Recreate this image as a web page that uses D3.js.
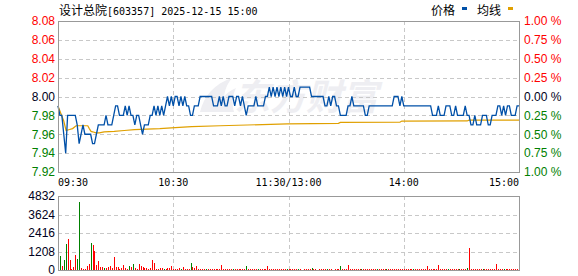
<!DOCTYPE html>
<html>
<head>
<meta charset="utf-8">
<script src="https://cdn.jsdelivr.net/npm/d3@7/dist/d3.min.js"></script>
<style>
  body { margin: 0; background: #fff; }
  svg { display: block; }
  text { font-family: "Liberation Sans", Arial, sans-serif; }
</style>
</head>
<body>
<svg id="chart" width="578" height="276"></svg>
<script>
// ---- data ----
var title = "设计总院";
var titleRest = "[603357] 2025-12-15 15:00";
var preClose = 8.00;

// one price per minute, 09:30 .. 11:30 / 13:00 .. 15:00 (241 points)
var prices = [
  7.99, 7.98, 7.98, 7.96, 7.94, 7.98, 7.98, 7.98, 7.98, 7.98,
  7.97, 7.95, 7.96, 7.97, 7.96, 7.96, 7.96, 7.96, 7.95, 7.95,
  7.96, 7.97, 7.97, 7.97, 7.97, 7.98, 7.97, 7.97, 7.97, 7.98,
  7.99, 7.99, 7.98, 7.98, 7.98, 7.99, 7.98, 7.99, 7.98, 7.98,
  7.97, 7.98, 7.98, 7.97, 7.96, 7.97, 7.97, 7.97, 7.98, 7.98,
  7.99, 7.98, 7.99, 7.98, 7.99, 7.98, 7.99, 8.00, 7.99, 8.00,
  7.99, 8.00, 8.00, 7.99, 8.00, 7.99, 8.00, 7.99, 7.99, 7.98,
  7.98, 7.99, 7.99, 7.99, 8.00, 8.00, 8.00, 8.00, 8.00, 8.00,
  8.00, 7.99, 7.99, 7.99, 8.00, 7.99, 8.00, 7.99, 7.99, 8.00,
  8.00, 8.00, 7.99, 8.00, 8.00, 7.99, 8.00, 7.99, 7.98, 7.99,
  7.99, 7.99, 7.99, 8.00, 7.99, 7.99, 7.99, 7.99, 8.00, 8.00,
  8.01, 8.00, 8.01, 8.00, 8.01, 8.00, 8.01, 8.00, 8.01, 8.00,
  8.01, 8.00, 8.00, 8.01, 8.00, 8.00, 8.01, 8.01, 8.01, 8.01,
  8.01, 8.01, 8.00, 8.00, 8.00, 8.00, 8.00, 8.00, 8.00, 7.99,
  7.99, 8.00, 7.99, 8.00, 8.00, 7.99, 7.99, 7.98, 7.98, 7.98,
  7.98, 7.99, 7.99, 8.00, 7.99, 7.99, 7.99, 7.99, 7.99, 7.99,
  7.98, 7.98, 7.99, 7.99, 7.99, 7.99, 7.99, 7.99, 7.99, 7.99,
  7.99, 7.99, 7.99, 7.99, 7.99, 8.00, 8.00, 8.00, 7.99, 8.00,
  7.99, 7.99, 7.99, 7.99, 7.99, 7.99, 7.99, 7.99, 7.99, 7.99,
  7.99, 7.99, 7.99, 7.99, 7.99, 7.98, 7.98, 7.98, 7.99, 7.98,
  7.98, 7.98, 7.99, 7.99, 7.99, 7.98, 7.98, 7.99, 7.98, 7.98,
  7.98, 7.98, 7.99, 7.98, 7.98, 7.97, 7.97, 7.98, 7.97, 7.97,
  7.97, 7.98, 7.98, 7.98, 7.97, 7.97, 7.98, 7.98, 7.98, 7.99,
  7.99, 7.98, 7.99, 7.98, 7.99, 7.99, 7.98, 7.98, 7.98, 7.99,
  7.99
];

// average price line, [minute, price] where it bends
var avgLine = [
  [0, 7.99], [1.5, 7.982], [3, 7.974], [4.2, 7.964], [6, 7.965], [7.6, 7.966],
  [9.4, 7.969], [15.5, 7.969], [16.3, 7.966], [17.2, 7.963], [18, 7.9626],
  [19.8, 7.9615], [21.5, 7.9615], [24, 7.9626], [29.3, 7.963], [34.5, 7.964],
  [39.8, 7.965], [53, 7.966], [61, 7.967], [69.6, 7.968], [84.4, 7.969],
  [119.4, 7.971], [146, 7.9715], [147, 7.9726], [178, 7.9727], [179, 7.974],
  [213, 7.9741], [214, 7.975], [240, 7.975]
];

// volume per minute (lots)
var volumes = [
  0, 914, 260, 650, 1700, 2025, 650, 90, 220, 980,
  720, 4440, 110, 65, 50, 260, 390, 1785, 1630, 1260,
  325, 590, 220, 170, 110, 110, 220, 260, 100, 850,
  170, 170, 65, 110, 325, 110, 65, 260, 170, 390,
  110, 65, 390, 260, 170, 110, 110, 65, 130, 650,
  435, 90, 65, 110, 110, 65, 65, 110, 110, 260,
  65, 65, 80, 130, 65, 170, 65, 80, 65, 435,
  170, 130, 260, 65, 65, 80, 65, 65, 80, 65,
  65, 65, 80, 65, 65, 325, 65, 65, 80, 65,
  65, 80, 65, 65, 65, 80, 65, 65, 260, 65,
  65, 65, 80, 65, 65, 65, 65, 80, 65, 260,
  65, 65, 65, 80, 65, 65, 65, 65, 80, 65,
  65, 65, 65, 65, 80, 65, 65, 0, 65, 65,
  65, 65, 130, 65, 65, 0, 65, 65, 65, 65,
  65, 65, 65, 0, 65, 65, 65, 260, 65, 65,
  65, 325, 65, 65, 65, 65, 65, 65, 65, 65,
  65, 65, 65, 65, 65, 65, 65, 65, 65, 65,
  65, 65, 65, 65, 65, 65, 65, 65, 65, 65,
  65, 65, 65, 65, 65, 65, 65, 65, 65, 65,
  65, 65, 260, 65, 65, 65, 65, 65, 325, 65,
  65, 65, 65, 65, 65, 65, 65, 65, 65, 65,
  65, 65, 65, 130, 1437, 65, 65, 65, 65, 65,
  65, 65, 65, 65, 65, 65, 65, 65, 390, 65,
  65, 65, 65, 65, 65, 65, 65, 65, 65, 65,
  260
];
// minutes whose volume bar is green (down), the rest are red
var greenBars = [1, 3, 4, 10, 11, 17, 24, 37, 39, 55, 64, 69, 77, 91, 98, 104, 119,
  125, 132, 140, 147, 158, 166, 171, 185, 203, 209, 213, 221, 232];

var priceTicks = [8.08, 8.06, 8.04, 8.02, 8.00, 7.98, 7.96, 7.94, 7.92];
var pctTicks = ["1.00 %", "0.75 %", "0.50 %", "0.25 %", "0.00 %", "0.25 %", "0.50 %", "0.75 %", "1.00 %"];
var volTicks = [0, 1208, 2416, 3624, 4832];
var timeMinutes = [0, 60, 120, 180, 240];
var timeLabels = ["09:30", "10:30", "11:30/13:00", "14:00", "15:00"];

// ---- drawing ----
var svg = d3.select("#chart");
var left = 58, right = 519;
var RED = "#ff0000", GREEN = "#008000", DARK = "#000020";
var GRID = "#c8c8c8", FRAME = "#999999";

var x = d3.scaleLinear().domain([0, 240]).range([left, right]);
var y = d3.scaleLinear().domain([7.92, 8.08]).range([172, 21]);
var yv = d3.scaleLinear().domain([0, 4832]).range([270, 196]);

function px(v) { return Math.round(v) + 0.5; }

// watermark
var wm = svg.append("g").attr("fill", "#eeeef2");
wm.append("path")
    .attr("d", "M200,112 C204,96 214,84 232,78 C224,88 222,98 226,112 Z M214,112 C220,100 226,92 236,88 C232,96 232,104 234,112 Z");
wm.append("text")
    .attr("x", 234).attr("y", 110)
    .style("font-family", "'Noto Sans CJK SC'")
    .style("font-size", "36px")
    .style("font-weight", "bold")
    .style("font-style", "italic")
    .text("东方财富");

// grid for both panels
function grid(g, yScale, ticks, y0, y1) {
    g.selectAll("line.h").data(ticks).enter().append("line")
        .attr("x1", left).attr("x2", right)
        .attr("y1", function(d) { return px(yScale(d)); })
        .attr("y2", function(d) { return px(yScale(d)); });
    g.selectAll("line.v").data(timeMinutes.slice(1, 4)).enter().append("line")
        .attr("x1", function(d) { return px(x(d)); })
        .attr("x2", function(d) { return px(x(d)); })
        .attr("y1", y0).attr("y2", y1);
    g.attr("stroke", GRID).attr("stroke-dasharray", "4,3").attr("stroke-width", 1);
}
grid(svg.append("g"), y, priceTicks.slice(1, 8), 21, 172);
grid(svg.append("g"), yv, volTicks.slice(1, 4), 196, 270);

// average line
var avgPath = d3.line()
    .x(function(d) { return x(d[0]); })
    .y(function(d) { return y(d[1]); });
svg.append("path")
    .datum(avgLine)
    .attr("d", avgPath)
    .attr("fill", "none")
    .attr("stroke", "#e0a000")
    .attr("stroke-width", 1.2);

// price line
var pricePath = d3.line()
    .x(function(d, i) { return x(i); })
    .y(function(d) { return y(d); });
svg.append("path")
    .datum(prices)
    .attr("d", pricePath)
    .attr("fill", "none")
    .attr("stroke", "#0050a8")
    .attr("stroke-width", 1.3);

// volume bars
svg.append("g").selectAll("rect").data(volumes).enter().append("rect")
    .attr("x", function(d, i) { return Math.round(x(i)); })
    .attr("width", 1)
    .attr("y", function(d) { return Math.round(yv(d)); })
    .attr("height", function(d) { return 270 - Math.round(yv(d)); })
    .attr("fill", function(d, i) { return greenBars.indexOf(i) >= 0 ? GREEN : RED; });

// frames
svg.append("rect").attr("x", left + 0.5).attr("y", 21.5)
    .attr("width", right - left).attr("height", 151)
    .attr("fill", "none").attr("stroke", FRAME);
svg.append("rect").attr("x", left + 0.5).attr("y", 196.5)
    .attr("width", right - left).attr("height", 74)
    .attr("fill", "none").attr("stroke", FRAME);

function tickColor(d) {
    if (Math.abs(d - preClose) < 1e-6) return DARK;
    return d > preClose ? RED : GREEN;
}

// left price axis
var axL = svg.append("g").attr("transform", "translate(" + (left - 3) + ",0)")
    .call(d3.axisLeft(y).tickValues(priceTicks).tickSize(0).tickPadding(0)
        .tickFormat(d3.format(".2f")));
axL.select(".domain").remove();
axL.selectAll("text")
    .style("font-family", "'Liberation Sans', Arial")
    .style("font-size", "12px")
    .attr("fill", function(d) { return tickColor(d); });

// right percent axis
var axR = svg.append("g").attr("transform", "translate(" + (right + 5) + ",0)")
    .call(d3.axisRight(y).tickValues(priceTicks).tickSize(0).tickPadding(0)
        .tickFormat(function(d, i) { return pctTicks[i]; }));
axR.select(".domain").remove();
axR.selectAll("text")
    .style("font-family", "'Liberation Sans', Arial")
    .style("font-size", "12px")
    .attr("fill", function(d) { return tickColor(d); });

// volume axis
var axV = svg.append("g").attr("transform", "translate(" + (left - 3) + ",0)")
    .call(d3.axisLeft(yv).tickValues(volTicks).tickSize(0).tickPadding(0)
        .tickFormat(d3.format("d")));
axV.select(".domain").remove();
axV.selectAll("text")
    .style("font-family", "'Liberation Sans', Arial")
    .style("font-size", "12px")
    .attr("fill", DARK);

// time labels
svg.append("g").selectAll("text").data(timeMinutes).enter().append("text")
    .attr("x", function(d) { return x(d); })
    .attr("y", 186)
    .attr("text-anchor", function(d, i) { return i === 0 ? "start" : (i === 4 ? "end" : "middle"); })
    .style("font-family", "'DejaVu Sans Mono', monospace")
    .style("font-size", "10px")
    .attr("fill", "#000")
    .text(function(d, i) { return timeLabels[i]; });

// title
var t = svg.append("text").attr("x", 59).attr("y", 15).attr("fill", "#000");
t.append("tspan").style("font-family", "'Noto Sans CJK SC'").style("font-size", "12px").text(title);
t.append("tspan").style("font-family", "'DejaVu Sans Mono', monospace").style("font-size", "10px").text(titleRest);

// legend
var legend = [["价格", "#0050a8", 431], ["均线", "#e0a000", 477]];
legend.forEach(function(l) {
    svg.append("text").attr("x", l[2]).attr("y", 15)
        .style("font-family", "'Noto Sans CJK SC'").style("font-size", "12px")
        .attr("fill", "#000").text(l[0]);
    svg.append("rect").attr("x", l[2] + 31).attr("y", 7)
        .attr("width", 5).attr("height", 3).attr("fill", l[1]);
});
</script>
</body>
</html>
